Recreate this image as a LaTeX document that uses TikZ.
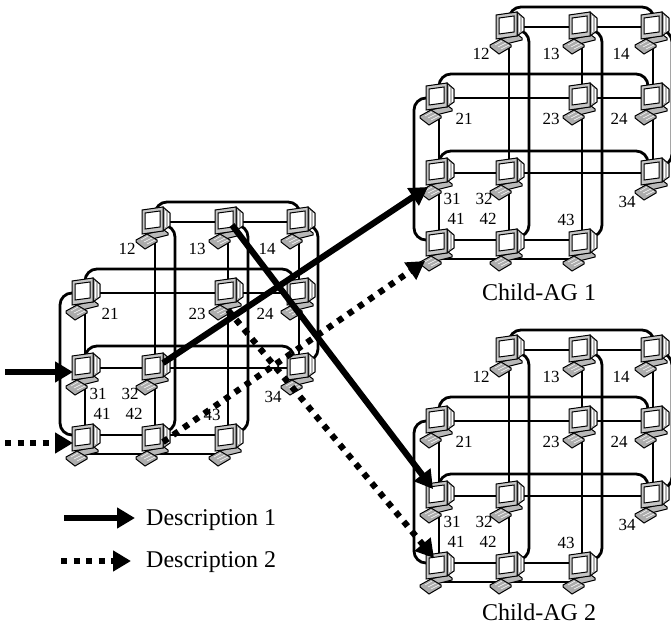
\documentclass[tikz,border=0pt]{standalone}
\usepackage{fontspec}
\setmainfont{Liberation Serif}
\usetikzlibrary{arrows.meta}
\pgfdeclarelayer{wires}
\pgfsetlayers{wires,main}

\tikzset{
  wire/.style={line width=2.8pt, rounded corners=12pt},
  pcbox/.style={rectangle, inner sep=0pt, minimum width=30pt, minimum height=28pt},
  num/.style={inner sep=0pt, font=\fontsize{17}{17}\selectfont},
  caption/.style={inner sep=0pt, font=\fontsize{24}{24}\selectfont},
  desc1/.style={line width=6.2pt, -{Triangle[length=18pt,width=20pt]}},
  desc2/.style={desc1, dash pattern=on 6pt off 6.5pt},
  computer/.pic={
    \draw[line width=1pt, fill=gray!55] (-9,12) -- (9,8) -- (13,11) -- (13,13) -- (-7,18) -- (-11,14) -- cycle;
    \draw[line width=1pt, fill=gray!65] (-19,18) -- (-8,12) -- (2,18) -- (2,20) -- (-10,27) -- (-19,20) -- cycle;
    \draw[line width=.5pt, white] (-14,18) -- (-7,14) (-11,20) -- (-3,16) (-8,22) -- (0,18);
    \draw[line width=1pt, fill=gray!60] (8,-15) -- (15,-9) -- (15,4) -- (8,9) -- cycle;
    \draw[line width=.5pt, white] (10.5,-11) -- (10.5,5) (12.8,-9) -- (12.8,4);
    \draw[line width=1pt, fill=gray!45] (-13,-12) -- (8,-15) -- (8,9) -- (-13,12) -- cycle;
    \draw[line width=1pt, fill=white] (-10,-9) -- (5,-11) -- (5,5) -- (-10,7) -- cycle;
  }
}

% one full grid of machines, #1 = prefix of the names
\newcommand{\agrid}[3]{
  \begin{scope}[shift={(#2,#3)}]
    \foreach \n/\x/\y in {12/155/222, 13/228/222, 14/300/222,
                          21/85/293, 23/228/293, 24/300/293,
                          31/85/368, 32/155/368, 34/300/368,
                          41/85/439, 42/155/439, 43/228/439} {
      \node[pcbox] (#1-\n) at (\x,\y) {};
      \pic at (\x,\y) {computer};
    }
    \begin{pgfonlayer}{wires}
      % rows
      \draw[wire] (#1-12.center) -- (#1-13.center) -- (#1-14.center);
      \draw[wire] (#1-21.center) -- (#1-23.center) -- (#1-24.center);
      \draw[wire] (#1-31.center) -- (#1-32.center) -- (#1-34.center);
      \draw[wire] ([yshift=4pt]#1-41.center) -- ([yshift=4pt]#1-43.center);
      \draw[wire] ([yshift=-15pt]#1-41.center) -- ([yshift=-15pt]#1-43.center);
      % columns
      \draw[wire] (#1-21.center) -- (#1-41.center);
      \draw[wire] (#1-12.center) -- (#1-42.center);
      \draw[wire] (#1-13.center) -- (#1-43.center);
      \draw[wire] ([xshift=-1pt]#1-14.center) -- ([xshift=-1pt]#1-34.center);
      % arcs over the top
      \draw[wire] (#1-12.center) -- ++(0,-20) -| (#1-14.center);
      \draw[wire] (#1-21.center) -- ++(0,-24) -| ([xshift=-6pt]#1-24.center);
      \draw[wire] (#1-31.center) -- ++(0,-22) -| ([xshift=-6pt]#1-34.center);
      % arcs at the side
      \draw[wire] ([yshift=-3pt]#1-12.center) -- ++(20,0) |- ([yshift=7pt]#1-42.center);
      \draw[wire] ([yshift=-3pt]#1-13.center) -- ++(20,0) |- ([yshift=7pt]#1-43.center);
      \draw[wire] ([yshift=-3pt]#1-14.center) -- ++(18,0) |- ([yshift=7pt]#1-34.center);
      \draw[wire] (#1-21.center) -- ++(-25,0) |- ([yshift=4pt]#1-41.center);
    \end{pgfonlayer}
    \foreach \n/\x/\y in {12/127/249, 13/197/249, 14/267/249,
                          21/110/314, 23/197/314, 24/265/314,
                          31/98/394, 32/130/394, 34/273/397,
                          41/102/414, 42/134/414, 43/212/415} {
      \node[num] (#1-t\n) at (\x,\y) {\n};
    }
  \end{scope}
}

\begin{document}
\begin{tikzpicture}[x=1pt, y=-1pt]
\useasboundingbox (0,0) rectangle (671,626);

\agrid{root}{0}{0}
\agrid{chone}{354}{-195}
\agrid{chtwo}{354}{128}

\node[caption] (cap1) at (539,292) {Child-AG 1};
\node[caption] (cap2) at (539,612) {Child-AG 2};

% incoming streams
\coordinate (in1) at (5,372);
\coordinate (in2) at (5,443);
\draw[desc1] (in1) -- ([shift={(-12,4)}]root-31.center);
\draw[desc2] (in2) -- ([shift={(-12,4)}]root-41.center);

% forwarded streams
\draw[desc1] ([shift={(8,-5)}]root-32.center) -- ([shift={(-11,14)}]chone-31.center);
\draw[desc2] ([shift={(8,3)}]root-42.center) -- ([shift={(-14,17)}]chone-41.center);
\draw[desc1] ([shift={(4,3)}]root-13.center) -- ([shift={(-6,-7)}]chtwo-31.center);
\draw[desc2] ([shift={(0,17)}]root-23.center) -- ([shift={(-5,-9)}]chtwo-41.center);

% legend
\coordinate (l1a) at (64,518);
\coordinate (l1b) at (135,518);
\coordinate (l2a) at (61,561);
\coordinate (l2b) at (131,561);
\draw[desc1] (l1a) -- (l1b);
\draw[desc2] (l2a) -- (l2b);
\node[caption, anchor=west] (d1) at (146,520.5) {Description 1};
\node[caption, anchor=west] (d2) at (146,562.5) {Description 2};

\end{tikzpicture}
\end{document}
